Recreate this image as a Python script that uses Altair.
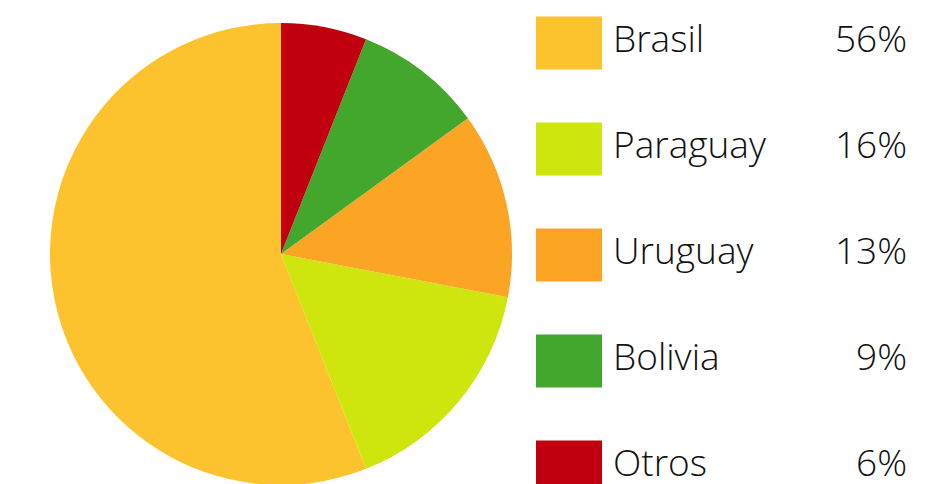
import altair as alt
import pandas as pd

countries = ["Brasil", "Paraguay", "Uruguay", "Bolivia", "Otros"]
shares = [56, 16, 13, 9, 6]
labels = ["56%", "16%", "13%", "9%", "6%"]
colors = ["#FDC32F", "#CEE50E", "#FCA424", "#43A72E", "#C1000F"]
pie_order = [5, 4, 3, 2, 1]  # clockwise from top: Otros, Bolivia, Uruguay, Paraguay, Brasil

df = pd.DataFrame({
    "pais": countries,
    "valor": shares,
    "etiqueta": labels,
    "orden": pie_order,
})

color = alt.Color("pais:N", scale=alt.Scale(domain=countries, range=colors), legend=None)
font = "Open Sans"

pie = alt.Chart(df).mark_arc(radius=231, stroke=None).encode(
    theta=alt.Theta("valor:Q", stack=True),
    order=alt.Order("orden:Q"),
    color=color,
    x=alt.value(273),
    y=alt.value(246),
)

ypos = alt.Y("pais:N", sort=countries, axis=None,
             scale=alt.Scale(range=[-18, 512], paddingInner=0, paddingOuter=0))

boxes = alt.Chart(df).mark_rect(height=53).encode(
    y=ypos,
    x=alt.value(528),
    x2=alt.value(594),
    color=color,
)

names = alt.Chart(df).mark_text(align="left", baseline="middle", fontSize=37, font=font,
                                fontWeight=300, color="#111111", dy=-2).encode(
    y=ypos,
    x=alt.value(605),
    text="pais:N",
)

pcts = alt.Chart(df).mark_text(align="right", baseline="middle", fontSize=37, font=font,
                               fontWeight=300, color="#111111", dy=-2).encode(
    y=ypos,
    x=alt.value(899),
    text="etiqueta:N",
)

chart = alt.layer(pie, boxes, names, pcts).properties(
    width=936, height=476, padding=0
).configure_view(stroke=None)

chart.save("out.html", embed_options={"renderer": "svg", "actions": False})
